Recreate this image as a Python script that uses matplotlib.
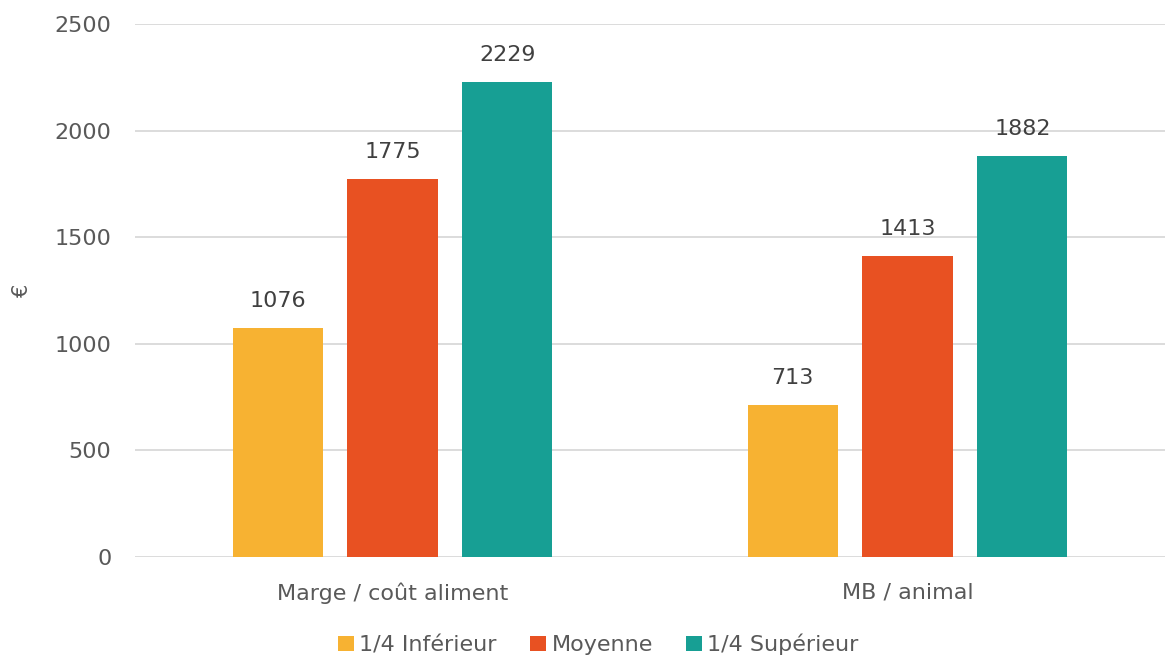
import numpy as np
import matplotlib.pyplot as plt

categories = ["Marge / coût aliment", "MB / animal"]
series = ["1/4 Inférieur", "Moyenne", "1/4 Supérieur"]
inferieur = [1076, 713]
moyenne = [1775, 1413]
superieur = [2229, 1882]
colors = ["#F7B232", "#E85122", "#179F94"]

plt.rcParams['font.family'] = ['DejaVu Sans']
txt = "#595959"

fig = plt.figure(figsize=(11.65, 6.59), dpi=100)
ax = fig.add_axes([135 / 1165, 1 - 557 / 659, 1 - 135 / 1165, (557 - 24) / 659])

x = np.arange(len(categories))
w = 0.175
step = 0.223
for i, (vals, name) in enumerate(zip([inferieur, moyenne, superieur], series)):
    bars = ax.bar(x + (i - 1) * step, vals, w, color=colors[i], label=name, zorder=3)
    for b, v in zip(bars, vals):
        ax.text(b.get_x() + b.get_width() / 2, v + 80, str(v), ha="center", va="bottom",
                fontsize=16, color="#404040")

ax.set_xlim(-0.5, 1.5)
ax.set_ylim(0, 2500)
ax.set_yticks(range(0, 2501, 500))
ax.grid(axis="y", color="#d9d9d9", linewidth=1.3, zorder=0)
for s in ax.spines.values():
    s.set_visible(False)
ax.tick_params(axis="y", length=0, pad=17, labelsize=16, labelcolor=txt)
ax.tick_params(axis="x", length=0, pad=18, labelsize=16, labelcolor=txt)
ax.set_xticks(x)
ax.set_xticklabels(categories)
ax.set_ylabel("€", fontsize=15, color=txt, labelpad=16)

ax.legend(loc="lower center", bbox_to_anchor=(0.45, -0.222), ncol=3, frameon=False,
          fontsize=16, labelcolor=txt, handlelength=0.7, handleheight=0.7,
          handletextpad=0.25, columnspacing=1.5)

fig.savefig("out.png", dpi=100)
